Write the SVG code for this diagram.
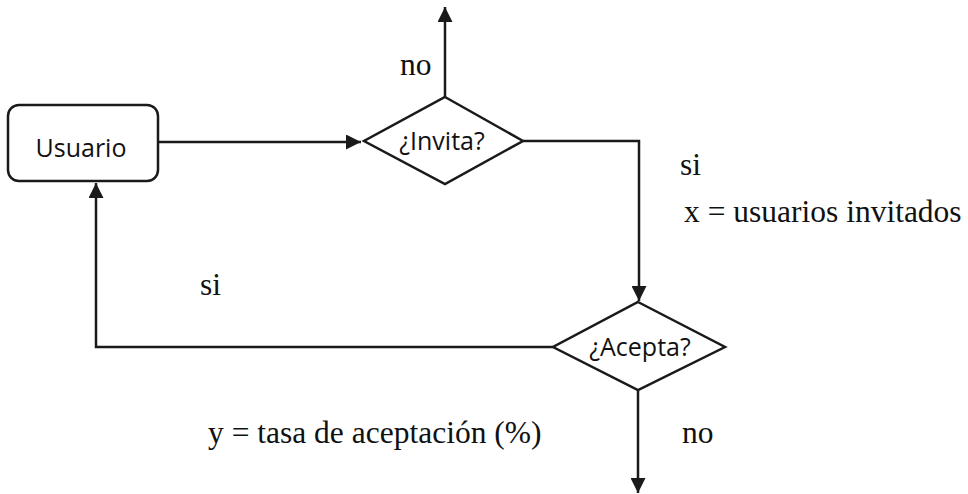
<svg xmlns="http://www.w3.org/2000/svg" width="968" height="494" viewBox="0 0 968 494">
<style>
.shape{fill:#fff;stroke:#1a1a1a;stroke-width:2.5}
.conn{fill:none;stroke:#1a1a1a;stroke-width:2.5}
.sans{font-family:"Open Sans","Noto Sans",sans-serif;font-size:25px;fill:#111;text-anchor:middle}
.serif{font-family:"Liberation Serif","Times New Roman",serif;font-size:31.5px;fill:#111}
</style>
<defs>
<marker id="ah" viewBox="0 0 10 10" refX="10" refY="5" markerWidth="6.5" markerHeight="6" orient="auto" markerUnits="strokeWidth">
<path d="M0,0 L10,5 L0,10 z" fill="#1a1a1a"/>
</marker>
</defs>
<g id="connectors">
<path class="conn" d="M158,142 L361,142" marker-end="url(#ah)"/>
<path class="conn" d="M445,97 L445,7" marker-end="url(#ah)"/>
<path class="conn" d="M523,141 L639,141 L639,301" marker-end="url(#ah)"/>
<path class="conn" d="M553,347 L96,347 L96,183" marker-end="url(#ah)"/>
<path class="conn" d="M638,390 L638,493" marker-end="url(#ah)"/>
</g>
<g id="usuario">
<rect class="shape" x="8" y="105" width="150" height="76" rx="11"/>
<text class="sans" x="81" y="157">Usuario</text>
</g>
<g id="invita">
<polygon class="shape" points="445,97 523,141 445,184 364,141"/>
<text class="sans" x="442" y="150">¿Invita?</text>
</g>
<g id="acepta">
<polygon class="shape" points="638,302 725,347 638,390 553,347"/>
<text class="sans" x="640" y="356">¿Acepta?</text>
</g>
<g id="labels">
<text class="serif" x="400" y="75">no</text>
<text class="serif" x="680" y="175">si</text>
<text class="serif" x="684" y="222">x = usuarios invitados</text>
<text class="serif" x="200" y="295">si</text>
<text class="serif" x="208" y="443">y = tasa de aceptación (%)</text>
<text class="serif" x="682" y="443">no</text>
</g>
</svg>
